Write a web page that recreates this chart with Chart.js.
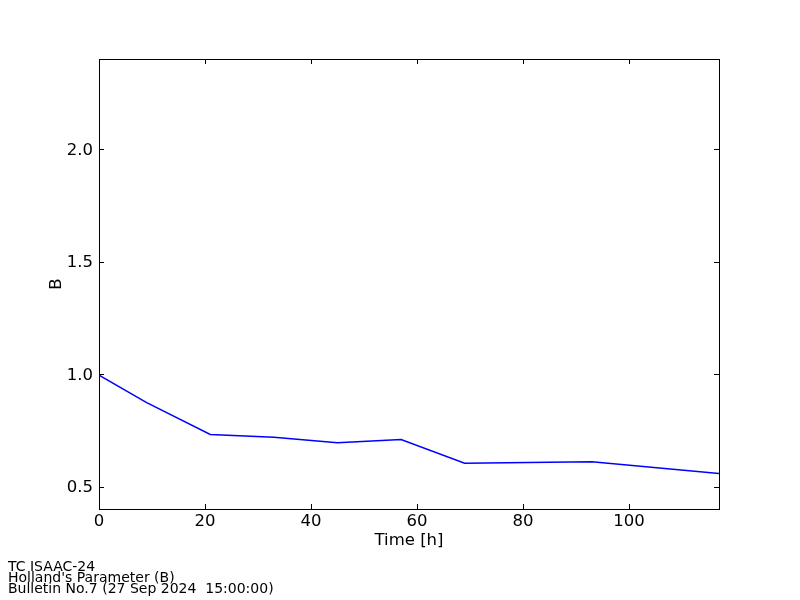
<!DOCTYPE html>
<html>
<head>
<meta charset="utf-8">
<script src="https://cdn.jsdelivr.net/npm/chart.js@4/dist/chart.umd.min.js"></script>
<style>
  html, body { margin: 0; padding: 0; background: #fff; }
  #wrap { position: relative; width: 800px; height: 600px; }
  #footer {
    position: absolute; left: 8px; top: 561px;
    font-family: "DejaVu Sans", sans-serif; font-size: 14px; line-height: 11px;
    color: #000; white-space: pre;
  }
</style>
</head>
<body>
<div id="wrap">
  <canvas id="bChart" width="800" height="600"></canvas>
  <div id="footer">TC ISAAC-24
Holland's Parameter (B)
Bulletin No.7 (27 Sep 2024  15:00:00)</div>
</div>
<script>
// datos
const hours = [0, 9, 21, 33, 45, 57, 69, 93, 117];
const hollandB = [0.995, 0.873, 0.731, 0.719, 0.695, 0.709, 0.603, 0.610, 0.558];
const xTicks = [0, 20, 40, 60, 80, 100];
const yTicks = [0.5, 1.0, 1.5, 2.0];

const FONT = "'DejaVu Sans', sans-serif";

// marco negro y ticks hacia dentro en los cuatro lados (estilo matplotlib clasico)
const frameTicks = {
    id: 'frameTicks',
    afterDraw(chart) {
        const { ctx, chartArea: a, scales } = chart;
        const len = 5;
        ctx.save();
        ctx.strokeStyle = '#000';
        ctx.lineWidth = 1;
        ctx.beginPath();
        scales.x.ticks.forEach(t => {
            const px = Math.round(scales.x.getPixelForValue(t.value)) + 0.5;
            ctx.moveTo(px, a.bottom); ctx.lineTo(px, a.bottom - len);
            ctx.moveTo(px, a.top); ctx.lineTo(px, a.top + len);
        });
        scales.y.ticks.forEach(t => {
            const py = Math.round(scales.y.getPixelForValue(t.value)) + 0.5;
            ctx.moveTo(a.left, py); ctx.lineTo(a.left + len, py);
            ctx.moveTo(a.right, py); ctx.lineTo(a.right - len, py);
        });
        ctx.stroke();
        ctx.strokeRect(Math.round(a.left) + 0.5, Math.round(a.top) + 0.5,
            Math.round(a.right - a.left), Math.round(a.bottom - a.top));
        ctx.restore();
    }
};

new Chart(document.getElementById('bChart'), {
    type: 'line',
    data: {
        datasets: [{
            data: hours.map((h, i) => ({ x: h, y: hollandB[i] })),
            borderColor: '#0000ff',
            borderWidth: 1.5,
            pointRadius: 0,
            tension: 0,
            fill: false
        }]
    },
    options: {
        responsive: false,
        animation: false,
        layout: { padding: { top: 59, right: 81, left: 47, bottom: 49 } },
        plugins: { legend: { display: false }, tooltip: { enabled: false } },
        scales: {
            x: {
                type: 'linear',
                min: 0, max: 117,
                afterBuildTicks: s => { s.ticks = xTicks.map(v => ({ value: v })); },
                afterFit: s => { s.height = 42; },
                grid: { display: false, drawTicks: false },
                border: { display: false },
                ticks: { color: '#000', padding: 3, maxRotation: 0, font: { family: FONT, size: 16.5 },
                         callback: v => String(v) },
                title: { display: true, text: 'Time [h]', color: '#000', padding: 0,
                         font: { family: FONT, size: 16.5 } }
            },
            y: {
                min: 0.4, max: 2.4,
                afterBuildTicks: s => { s.ticks = yTicks.map(v => ({ value: v })); },
                afterFit: s => { s.width = 52; },
                grid: { display: false, drawTicks: false },
                border: { display: false },
                ticks: { color: '#000', padding: 6, labelOffset: 1.5, font: { family: FONT, size: 16.5 },
                         callback: v => Number(v).toFixed(1) },
                title: { display: true, text: 'B', color: '#000', padding: 0,
                         font: { family: FONT, size: 16.5 } }
            }
        }
    },
    plugins: [frameTicks]
});
</script>
</body>
</html>
